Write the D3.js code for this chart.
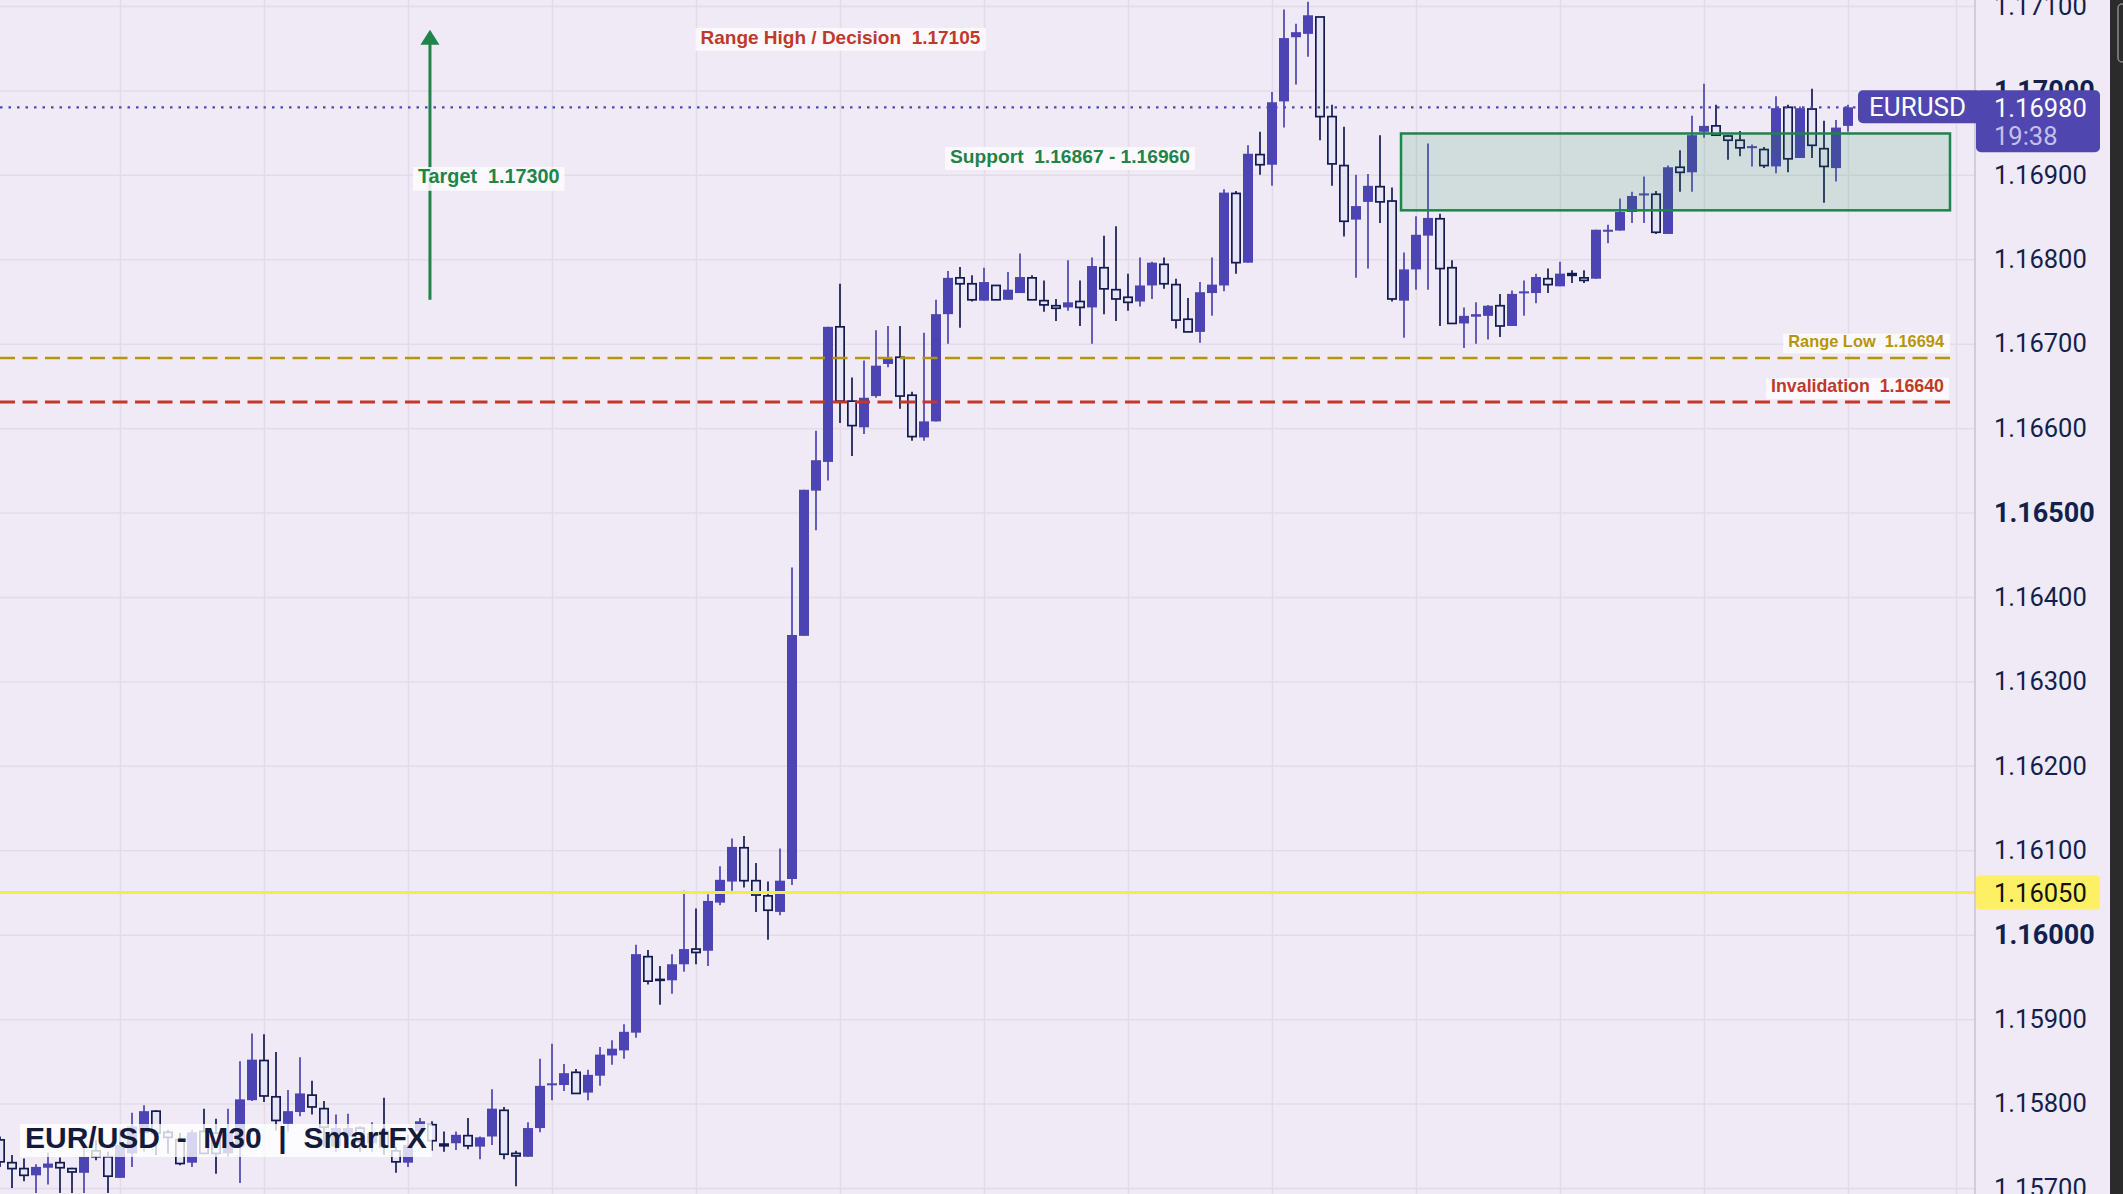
<!DOCTYPE html>
<html><head><meta charset="utf-8">
<script src="https://cdn.jsdelivr.net/npm/d3@7"></script>
<style>
html,body{margin:0;padding:0;background:#efeaf5;overflow:hidden}
svg{display:block}
text{white-space:pre}
</style></head><body>
<svg id="c" width="2123" height="1194"></svg>
<script>
// ---- DATA (EUR/USD M30 candles) ----
const opens = [1.15757,1.15730,1.15723,1.15715,1.15724,1.15730,1.15723,1.15718,1.15744,1.15737,
1.15712,1.15741,1.15765,1.15791,1.15766,1.15757,1.15730,1.15767,1.15765,1.15741,
1.15749,1.15804,1.15851,1.15808,1.15776,1.15790,1.15810,1.15794,1.15749,1.15761,
1.15771,1.15753,1.15767,1.15744,1.15730,1.15767,1.15775,1.15752,1.15753,1.15762,
1.15749,1.15761,1.15792,1.15741,1.15737,1.15771,1.15822,1.15822,1.15837,1.15813,
1.15833,1.15857,1.15863,1.15884,1.15974,1.15947,1.15946,1.15965,1.15983,1.15981,
1.16038,1.16063,1.16103,1.16064,1.16046,1.16027,1.16066,1.16354,1.16526,1.16560,
1.16720,1.16632,1.16601,1.16638,1.16676,1.16684,1.16639,1.16589,1.16608,1.16735,
1.16778,1.16771,1.16751,1.16769,1.16752,1.16760,1.16778,1.16751,1.16745,1.16743,
1.16750,1.16743,1.16790,1.16764,1.16755,1.16750,1.16769,1.16794,1.16770,1.16729,
1.16714,1.16760,1.16769,1.16878,1.16796,1.16924,1.16912,1.16987,1.17063,1.17067,
1.17087,1.16969,1.16911,1.16847,1.16868,1.16886,1.16869,1.16751,1.16788,1.16828,
1.16848,1.16790,1.16724,1.16732,1.16733,1.16745,1.16721,1.16761,1.16760,1.16777,
1.16768,1.16783,1.16778,1.16777,1.16833,1.16834,1.16856,1.16877,1.16877,1.16830,
1.16909,1.16903,1.16951,1.16958,1.16946,1.16941,1.16933,1.16930,1.16910,1.16980,
1.16920,1.16978,1.16931,1.16908,1.16958];
const highs = [1.15761,1.15739,1.15735,1.15728,1.15742,1.15736,1.15724,1.15747,1.15757,1.15743,
1.15770,1.15789,1.15798,1.15792,1.15769,1.15765,1.15769,1.15794,1.15782,1.15794,
1.15850,1.15883,1.15882,1.15861,1.15816,1.15855,1.15827,1.15803,1.15787,1.15788,
1.15773,1.15778,1.15807,1.15749,1.15763,1.15783,1.15779,1.15767,1.15767,1.15783,
1.15761,1.15817,1.15796,1.15744,1.15778,1.15853,1.15871,1.15847,1.15841,1.15840,
1.15867,1.15875,1.15894,1.15988,1.15982,1.15963,1.15977,1.16052,1.16031,1.16048,
1.16081,1.16114,1.16117,1.16085,1.16063,1.16102,1.16435,1.16527,1.16597,1.16720,
1.16771,1.16660,1.16680,1.16716,1.16721,1.16721,1.16643,1.16713,1.16752,1.16786,
1.16791,1.16781,1.16790,1.16769,1.16785,1.16807,1.16781,1.16775,1.16753,1.16799,
1.16775,1.16802,1.16828,1.16839,1.16783,1.16802,1.16797,1.16802,1.16777,1.16754,
1.16773,1.16802,1.16883,1.16881,1.16935,1.16951,1.16998,1.17096,1.17079,1.17105,
1.17087,1.16983,1.16957,1.16900,1.16901,1.16947,1.16885,1.16808,1.16851,1.16937,
1.16854,1.16799,1.16743,1.16749,1.16746,1.16759,1.16763,1.16775,1.16783,1.16789,
1.16797,1.16787,1.16787,1.16835,1.16841,1.16872,1.16880,1.16898,1.16881,1.16911,
1.16929,1.16970,1.17008,1.16983,1.16947,1.16952,1.16936,1.16933,1.16993,1.16983,
1.16981,1.17002,1.16964,1.16965,1.16983];
const lows = [1.15725,1.15700,1.15708,1.15694,1.15704,1.15694,1.15694,1.15694,1.15733,1.15694,
1.15712,1.15725,1.15743,1.15739,1.15741,1.15727,1.15725,1.15740,1.15717,1.15737,
1.15706,1.15803,1.15802,1.15768,1.15767,1.15785,1.15787,1.15749,1.15743,1.15747,
1.15743,1.15743,1.15739,1.15718,1.15725,1.15761,1.15744,1.15743,1.15745,1.15746,
1.15734,1.15751,1.15734,1.15702,1.15737,1.15766,1.15804,1.15815,1.15812,1.15804,
1.15821,1.15846,1.15853,1.15878,1.15941,1.15917,1.15930,1.15956,1.15965,1.15963,
1.16035,1.16052,1.16056,1.16027,1.15994,1.16023,1.16059,1.16354,1.16479,1.16538,
1.16606,1.16567,1.16593,1.16636,1.16672,1.16623,1.16585,1.16585,1.16608,1.16700,
1.16719,1.16750,1.16751,1.16752,1.16752,1.16760,1.16752,1.16738,1.16727,1.16739,
1.16721,1.16700,1.16735,1.16727,1.16739,1.16744,1.16753,1.16765,1.16718,1.16714,
1.16701,1.16733,1.16762,1.16783,1.16796,1.16900,1.16887,1.16956,1.17007,1.17040,
1.16941,1.16887,1.16827,1.16778,1.16789,1.16843,1.16750,1.16707,1.16764,1.16764,
1.16721,1.16724,1.16695,1.16700,1.16705,1.16708,1.16721,1.16733,1.16748,1.16760,
1.16768,1.16772,1.16772,1.16777,1.16819,1.16834,1.16843,1.16843,1.16830,1.16830,
1.16880,1.16880,1.16944,1.16947,1.16918,1.16922,1.16910,1.16908,1.16902,1.16903,
1.16920,1.16920,1.16867,1.16892,1.16951];
const closes = [1.15731,1.15723,1.15715,1.15725,1.15729,1.15724,1.15719,1.15737,1.15737,1.15714,
1.15751,1.15773,1.15791,1.15765,1.15760,1.15729,1.15766,1.15741,1.15741,1.15765,
1.15805,1.15852,1.15809,1.15780,1.15791,1.15812,1.15796,1.15772,1.15771,1.15771,
1.15755,1.15765,1.15749,1.15731,1.15751,1.15779,1.15756,1.15750,1.15763,1.15750,
1.15760,1.15794,1.15740,1.15738,1.15771,1.15821,1.15824,1.15836,1.15812,1.15834,
1.15858,1.15865,1.15885,1.15977,1.15945,1.15946,1.15965,1.15983,1.15979,1.16040,
1.16065,1.16104,1.16064,1.16047,1.16029,1.16064,1.16355,1.16527,1.16562,1.16720,
1.16632,1.16603,1.16636,1.16674,1.16682,1.16638,1.16590,1.16608,1.16735,1.16778,
1.16771,1.16752,1.16773,1.16752,1.16764,1.16779,1.16752,1.16746,1.16742,1.16749,
1.16743,1.16792,1.16765,1.16753,1.16749,1.16769,1.16796,1.16771,1.16728,1.16714,
1.16761,1.16770,1.16879,1.16796,1.16925,1.16912,1.16986,1.17062,1.17069,1.17089,
1.16969,1.16913,1.16845,1.16863,1.16887,1.16868,1.16753,1.16788,1.16829,1.16849,
1.16789,1.16724,1.16733,1.16735,1.16745,1.16721,1.16759,1.16762,1.16779,1.16770,
1.16783,1.16781,1.16775,1.16835,1.16835,1.16856,1.16875,1.16878,1.16832,1.16909,
1.16903,1.16947,1.16958,1.16947,1.16941,1.16932,1.16934,1.16911,1.16979,1.16919,
1.16979,1.16935,1.16910,1.16956,1.16980];

const yTicks = [1.157,1.158,1.159,1.160,1.161,1.162,1.163,1.164,1.165,1.166,1.167,1.168,1.169,1.170,1.171];
const boldTicks = [1.160,1.165,1.170];
const gridBars = [10,22,34,46,58,70,82,94,106,118,130,142,154,163]; // 6-hour time grid (bar index)

const symbol = "EURUSD";
const lastPrice = 1.16980;
const countdown = "19:38";
const markedLevel = 1.16050;
const title = "EUR/USD  -  M30  |  SmartFX";
// annotation levels: label value and the price at which the line is drawn in the picture
const rangeHigh = {text:"Range High / Decision  1.17105"};
const target = {text:"Target  1.17300", bar:35.83, from:1.16752, to:1.17072};
const support = {text:"Support  1.16867 - 1.16960", top:1.16949, bottom:1.16858, barFrom:116.75, barTo:162.5};
const rangeLow = {text:"Range Low  1.16694", drawn:1.16683};
const invalidation = {text:"Invalidation  1.16640", drawn:1.16631};

// ---- LAYOUT ----
const W = 2123, H = 1194, plotR = 1975, axisR = 2110;
const svg = d3.select("#c");
const N = opens.length;
const x = d3.scaleLinear().domain([0, N-1]).range([0, 1848]);
const y = d3.scaleLinear().domain([1.157, 1.171]).range([1188, 6]);

const C = {bg:"#efeaf5", grid:"#e2dce8", up:"#4c44b2", down:"#121b50", downFill:"#e8e6f6",
  green:"#1e8449", red:"#c0392b", gold:"#b7950b", yellow:"#fde84a", navy:"#131f4e"};

svg.append("rect").attr("width",W).attr("height",H).attr("fill",C.bg);

// grid
const gH = svg.append("g").call(d3.axisLeft(y).tickValues(yTicks).tickSize(-plotR).tickFormat(""));
gH.select(".domain").remove();
gH.selectAll("line").attr("stroke",C.grid).attr("stroke-width",1.5);
const gV = svg.append("g").call(d3.axisTop(x).tickValues(gridBars).tickSize(-H).tickFormat(""));
gV.select(".domain").remove();
gV.selectAll("line").attr("stroke",C.grid).attr("stroke-width",1.5);

// candles
const data = d3.range(N).map(i => ({i, o:opens[i], h:highs[i], l:lows[i], c:closes[i], up: closes[i] >= opens[i]}));
const cg = svg.append("g");
cg.selectAll("line.w").data(data).join("line")
  .attr("x1", d=>x(d.i)).attr("x2", d=>x(d.i))
  .attr("y1", d=>y(d.h)).attr("y2", d=>y(d.l))
  .attr("stroke", d=>d.up?C.up:C.down).attr("stroke-width",1.7);
cg.selectAll("rect.u").data(data.filter(d=>d.up)).join("rect")
  .attr("x", d=>x(d.i)-5).attr("width",10)
  .attr("y", d=>y(d.c)).attr("height", d=>Math.max(2, y(d.o)-y(d.c)))
  .attr("fill", C.up);
cg.selectAll("rect.d").data(data.filter(d=>!d.up)).join("rect")
  .attr("x", d=>x(d.i)-4.15).attr("width",8.3)
  .attr("y", d=>y(d.o)).attr("height", d=>Math.max(0.6, y(d.c)-y(d.o)))
  .attr("fill", C.downFill).attr("stroke", C.down).attr("stroke-width",1.7);

// title
const tg = svg.append("g");
const trect = tg.append("rect");
const tt = tg.append("text").attr("x",25).attr("y",1148)
  .attr("font-family",'"Liberation Sans", Arial, sans-serif').attr("font-weight","bold")
  .attr("font-size",30).attr("fill","#141a3c").text(title);
const tb = tt.node().getBBox();
trect.attr("x",20).attr("y",1124).attr("width",tb.width+10).attr("height",33)
  .attr("fill","#ffffff").attr("fill-opacity",0.78);

// support zone
svg.append("rect")
  .attr("x", x(support.barFrom)).attr("width", x(support.barTo)-x(support.barFrom))
  .attr("y", y(support.top)).attr("height", y(support.bottom)-y(support.top))
  .attr("fill", C.green).attr("fill-opacity",0.14).attr("stroke",C.green).attr("stroke-width",2.5);

// horizontal levels
svg.append("line").attr("x1",0).attr("x2",plotR).attr("y1",y(markedLevel)).attr("y2",y(markedLevel))
  .attr("stroke",C.yellow).attr("stroke-width",3);
svg.append("line").attr("x1",0).attr("x2",x(162.6)).attr("y1",y(rangeLow.drawn)).attr("y2",y(rangeLow.drawn))
  .attr("stroke",C.gold).attr("stroke-width",2.5).attr("stroke-dasharray","15,7.5");
svg.append("line").attr("x1",0).attr("x2",x(162.6)).attr("y1",y(invalidation.drawn)).attr("y2",y(invalidation.drawn))
  .attr("stroke",C.red).attr("stroke-width",3).attr("stroke-dasharray","15,7.5");
svg.append("line").attr("x1",0).attr("x2",1858).attr("y1",y(lastPrice)).attr("y2",y(lastPrice))
  .attr("stroke","#5046b8").attr("stroke-width",2.2).attr("stroke-dasharray","2.5,6");

// target arrow
const ax = x(target.bar);
svg.append("line").attr("x1",ax).attr("x2",ax).attr("y1",y(target.from)).attr("y2",y(target.to)+14)
  .attr("stroke",C.green).attr("stroke-width",3);
svg.append("path").attr("d",`M${ax},${y(target.to)} L${ax-9.5},${y(target.to)+15} L${ax+9.5},${y(target.to)+15} Z`)
  .attr("fill",C.green);

function label(text, lx, base, fs, color, anchor){
  const g = svg.append("g");
  const r = g.append("rect");
  const t = g.append("text").attr("x",lx).attr("y",base).attr("font-size",fs)
    .attr("font-family",'"Liberation Sans", Arial, sans-serif').attr("font-weight","bold")
    .attr("fill",color).attr("text-anchor",anchor||"start").text(text);
  const bb = t.node().getBBox();
  r.attr("x",bb.x-5).attr("width",bb.width+10).attr("y",base-0.82*fs).attr("height",1.2*fs)
    .attr("fill","#fdfbfe").attr("fill-opacity",0.88);
}
label(rangeHigh.text, 700.5, 43.5, 19, C.red);
label(target.text, 418, 183.3, 19.8, C.green);
label(support.text, 950, 162.7, 19.2, C.green);
label(rangeLow.text, 1944, y(rangeLow.drawn)-11, 16.4, C.gold, "end");
label(invalidation.text, 1944, y(invalidation.drawn)-9.5, 17.8, C.red, "end");

// right price axis
svg.append("rect").attr("x",plotR).attr("y",0).attr("width",axisR-plotR).attr("height",H).attr("fill",C.bg);
svg.append("line").attr("x1",plotR).attr("x2",plotR).attr("y1",0).attr("y2",H).attr("stroke","#c9c3d1").attr("stroke-width",1.5);
const ga = svg.append("g").attr("transform",`translate(${plotR},0)`)
  .call(d3.axisRight(y).tickValues(yTicks).tickSize(0).tickPadding(19).tickFormat(d3.format(".5f")));
ga.select(".domain").remove();
const isBold = d => boldTicks.some(b=>Math.abs(b-d)<1e-9);
ga.selectAll("text").attr("font-family","Roboto, sans-serif").attr("fill",C.navy)
  .attr("font-size", d => isBold(d) ? 27 : 25.5)
  .attr("font-weight", d => isBold(d) ? "bold" : "normal");

// yellow price tag
const yl = y(markedLevel);
svg.append("rect").attr("x",plotR+1).attr("y",yl-17).attr("width",124).attr("height",34).attr("rx",4).attr("fill","#fef064");
svg.append("text").attr("x",1994).attr("y",yl).attr("dominant-baseline","central")
  .attr("font-family","Roboto, sans-serif").attr("font-size",25.5).attr("fill","#111").text(d3.format(".5f")(markedLevel));

// last price tag
const yp = y(lastPrice);
svg.append("rect").attr("x",1858).attr("y",yp-17).attr("width",124).attr("height",33).attr("rx",5).attr("fill","#4f46b0");
svg.append("text").attr("x",1869).attr("y",yp).attr("dominant-baseline","central")
  .attr("font-family","Roboto, sans-serif").attr("font-size",26).attr("fill","#fff").text(symbol);
svg.append("rect").attr("x",plotR+1).attr("y",yp-17).attr("width",124).attr("height",62).attr("rx",5).attr("fill","#4f46b0");
svg.append("text").attr("x",1994).attr("y",yp+0.5).attr("dominant-baseline","central")
  .attr("font-family","Roboto, sans-serif").attr("font-size",25.5).attr("fill","#fff").text(d3.format(".5f")(lastPrice));
svg.append("text").attr("x",1994).attr("y",yp+28.5).attr("dominant-baseline","central")
  .attr("font-family","Roboto, sans-serif").attr("font-size",25.5).attr("fill","#c4c0ea").text(countdown);

// dark side strip
svg.append("rect").attr("x",axisR).attr("y",0).attr("width",W-axisR).attr("height",H).attr("fill","#2b2b2b");
svg.append("rect").attr("x",axisR+8).attr("y",4).attr("width",10).attr("height",58).attr("rx",4)
  .attr("fill","none").attr("stroke","#8a8a8a").attr("stroke-width",1.5);
</script>
</body></html>
